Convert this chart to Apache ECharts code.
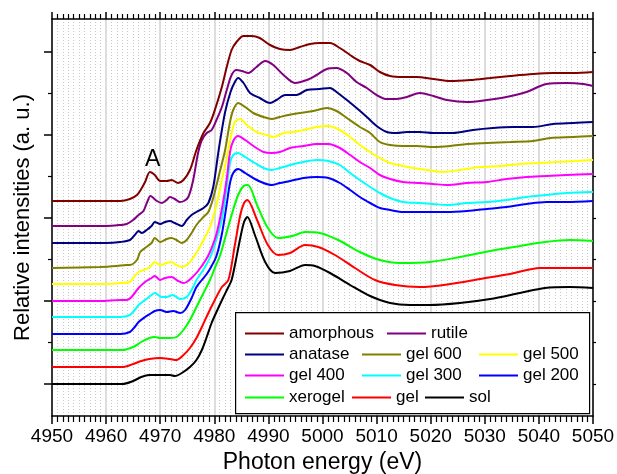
<!DOCTYPE html>
<html>
<head>
<meta charset="utf-8">
<script src="https://cdn.jsdelivr.net/npm/echarts@6/dist/echarts.min.js"></script>
<style>html,body{margin:0;padding:0;background:#fff;}#c{width:617px;height:474px;}</style>
</head>
<body>
<div id="c"></div>
<script>
// Photon energy (eV) vs relative intensity (a.u., offset curves)
const xTicks = [4950, 4960, 4970, 4980, 4990, 5000, 5010, 5020, 5030, 5040, 5050];
const yMajorTicks = [0, 83, 166, 249, 332];
const yMinorTicks = [41.5, 124.5, 207.5, 290.5];

const amorphous = [[4950,183],[4960,183],[4962.6,183],[4964.4,185],[4965.7,189],[4966.6,196],[4967.2,202],[4968.1,212],[4969,209],[4970,203],[4971.2,203],[4972.1,204],[4973.3,201],[4974.3,204],[4975.5,214],[4976.7,234],[4978,251],[4979.2,261],[4980.1,274],[4981.4,297],[4982.3,317],[4983.2,334],[4984.1,342],[4985.4,348],[4986.9,348],[4988.4,346],[4990.3,339],[4992.1,335],[4994,334],[4995.8,337],[4997.7,340],[4999.5,341],[5001.4,341],[5003.2,336],[5005.1,329],[5006.9,323],[5008.8,319],[5010.6,312],[5012.5,308],[5014.9,307],[5017.4,307],[5020.5,305],[5023.6,303],[5027.3,304],[5031,306],[5034.7,308],[5038.9,310],[5042.6,311],[5046.3,311],[5050,312]];
const rutile = [[4950,158],[4960,158],[4962.6,159],[4963.8,160],[4965,164],[4966,169],[4966.9,173],[4967.6,182],[4968.2,188],[4969.4,183],[4970.3,181],[4971.2,184],[4971.8,187],[4972.7,185],[4973.6,182],[4974.4,183],[4975.2,187],[4976.1,204],[4977,231],[4977.7,244],[4978.6,251],[4979.5,254],[4980.4,264],[4981.4,277],[4982.3,294],[4983.2,309],[4984.1,314],[4985.1,313],[4986.3,311],[4987.8,317],[4989.4,323],[4990.9,319],[4992.8,309],[4994.9,301],[4997.1,304],[4998.9,309],[5000.8,315],[5002.6,316],[5004.5,311],[5006.3,302],[5008.2,296],[5010,289],[5011.9,285],[5013.7,285],[5015.6,287],[5018,291],[5020.5,288],[5023,284],[5026.7,282],[5030.4,284],[5034,287],[5037.7,292],[5041.4,300],[5045.1,301],[5048.2,300],[5050,298]];
const anatase = [[4950,141],[4960,141],[4962.6,142],[4964.4,144],[4965.3,149],[4966,153],[4966.6,151],[4967.5,154],[4968.4,158],[4969,162],[4970,160],[4970.9,162],[4971.8,163],[4972.7,161],[4974,158],[4974.9,164],[4975.8,169],[4976.7,172],[4978,176],[4978.9,181],[4979.8,197],[4980.7,230],[4981.1,244],[4982,272],[4983,292],[4983.8,302],[4984.4,306],[4985.4,301],[4986.6,291],[4988.4,286],[4990.3,281],[4991.5,284],[4993.1,289],[4995.2,289],[4997.1,294],[4999.5,295],[5001.4,296],[5002.6,292],[5004.5,284],[5006.3,276],[5008.2,267],[5010,258],[5011.9,252],[5013.7,251],[5015.6,252],[5018,252],[5020.5,251],[5024.1,251],[5027.8,254],[5031.5,256],[5035.2,257],[5038.9,257],[5042.6,260],[5046.3,261],[5050,262]];
const gel600 = [[4950,116],[4958.9,117],[4962,118],[4963.8,119],[4964.4,119],[4965.7,124],[4966.3,132],[4967.2,136],[4968.4,141],[4969,146],[4970,142],[4971.2,145],[4972.1,146],[4973,144],[4974,141],[4974.9,144],[4975.8,151],[4976.7,159],[4978,167],[4978.9,172],[4979.8,186],[4981.1,214],[4982,234],[4982.9,262],[4983.5,274],[4984.4,281],[4985.7,277],[4987.2,271],[4989.1,267],[4990.6,265],[4992.1,267],[4993.7,269],[4995.8,271],[4998.3,273],[5000.8,276],[5002.6,273],[5004.5,266],[5006.9,257],[5008.8,251],[5010.6,242],[5012.5,239],[5014.9,238],[5017.4,238],[5020.5,237],[5023.6,238],[5026.7,240],[5030.4,241],[5034.7,242],[5038.9,243],[5042.1,246],[5046.3,247],[5050,248]];
const gel500 = [[4950,100],[4958.9,100],[4962.6,101],[4964.4,102],[4965,106],[4966,112],[4966.9,114],[4968.1,117],[4969,122],[4970,119],[4971.2,121],[4972.1,122],[4973,119],[4974,117],[4974.9,119],[4975.8,124],[4977,134],[4978.3,147],[4979.2,157],[4980.4,179],[4981.4,204],[4982.3,226],[4982.9,243],[4983.8,262],[4984.8,265],[4986,259],[4987.8,252],[4989.7,249],[4990.9,247],[4992.8,251],[4994.6,252],[4996.5,254],[4998.9,257],[5001.1,258],[5003.2,254],[5005.1,247],[5006.9,239],[5008.8,232],[5010.6,226],[5012.5,221],[5014.9,218],[5018,215],[5020.5,213],[5022.3,212],[5025.4,214],[5029.1,217],[5032.8,218],[5036.5,220],[5040.2,221],[5043.3,222],[5047,223],[5050,224]];
const gel400 = [[4950,83],[4958.9,83],[4962.6,84],[4963.8,84],[4964.7,87],[4966,96],[4967.2,102],[4968.4,106],[4969,108],[4970,104],[4970.9,106],[4972.1,107],[4973.3,103],[4974.3,101],[4974.9,102],[4975.8,106],[4977,113],[4978.3,123],[4979.2,132],[4980.4,150],[4981.4,175],[4982.3,205],[4982.9,232],[4983.5,243],[4984.4,248],[4985.7,244],[4987.5,237],[4989.1,232],[4990.6,231],[4992.1,232],[4994,236],[4996.5,238],[4998.9,240],[5001.1,240],[5003.2,236],[5005.1,229],[5006.9,222],[5008.8,216],[5010.6,209],[5012.5,205],[5014.9,202],[5018,201],[5020.5,200],[5023,199],[5026.7,201],[5030.4,202],[5034,205],[5037.7,207],[5041.4,208],[5045.1,209],[5050,210]];
const gel300 = [[4950,67],[4960,67],[4962.6,67],[4964.4,69],[4965.3,74],[4966,79],[4967.2,84],[4968.4,89],[4969,91],[4970.3,87],[4971.2,87],[4972.3,89],[4973.7,85],[4974.9,87],[4976.1,97],[4976.7,104],[4977.7,112],[4978.6,120],[4979.5,130],[4980.4,145],[4981.4,165],[4982.3,198],[4982.9,221],[4983.5,229],[4984.4,231],[4985.7,227],[4987.5,221],[4989.1,216],[4990.6,214],[4992.1,216],[4994,219],[4996.5,222],[4998.9,224],[5001.1,223],[5003.2,219],[5005.1,211],[5006.9,204],[5008.8,197],[5010.6,191],[5012.5,186],[5014.9,182],[5018,181],[5020.5,180],[5023,179],[5026.7,181],[5030.4,182],[5034,184],[5037.7,187],[5041.4,189],[5045.1,191],[5050,192]];
const gel200 = [[4950,50],[4960,50],[4962.6,50],[4964.4,52],[4965.3,57],[4966,62],[4967.2,67],[4968.1,70],[4969,73],[4970,74],[4971.2,72],[4972.4,73],[4973.7,71],[4974.6,74],[4975.8,86],[4976.7,97],[4977.7,104],[4978.6,110],[4979.5,118],[4980.4,128],[4981.4,150],[4982.3,180],[4982.9,201],[4983.5,211],[4984.4,215],[4985.7,211],[4987.5,205],[4989.1,201],[4990.6,199],[4992.1,201],[4994,203],[4996.5,206],[4998.9,207],[5001.1,206],[5003.2,201],[5005.1,194],[5006.9,187],[5008.8,181],[5010.6,176],[5012.5,174],[5014.9,172],[5019.3,172],[5023,172],[5026.7,173],[5030.4,175],[5034,177],[5037.7,180],[5041.4,182],[5045.1,182],[5050,183]];
const xerogel = [[4950,34],[4960,34],[4963,34],[4965,37],[4966.5,42],[4968,46],[4969,47],[4970,46],[4971.8,46],[4973,47],[4974.3,54],[4975.5,64],[4976.7,77],[4978,91],[4979.2,104],[4980.1,116],[4981.1,129],[4982,146],[4983.2,169],[4984.4,189],[4985.4,198],[4986.2,199],[4987.9,179],[4989.9,156],[4991.8,146],[4994.4,148],[4996.8,152],[4999.5,151],[5002.9,144],[5006.9,132],[5010.6,124],[5014.3,121],[5019.9,122],[5025.4,127],[5031,133],[5036.5,138],[5041.1,142],[5045.7,144],[5050,143]];
const gel = [[4950,17],[4960,17],[4963,17],[4965,20],[4966.5,23],[4968,25],[4970,26],[4971.8,25],[4973,24],[4974.3,29],[4975.5,36],[4976.7,46],[4977.7,57],[4978.9,71],[4980.1,84],[4981.4,97],[4982.6,104],[4983.8,139],[4984.8,169],[4985.5,181],[4986.1,184],[4987.9,164],[4989.9,139],[4991.8,129],[4994,131],[4996.8,139],[4999.2,137],[5002.3,129],[5006,116],[5009.7,104],[5013.4,99],[5018,97],[5023.6,100],[5029.1,105],[5034.7,110],[5040.2,116],[5044.8,116],[5050,116]];
const sol = [[4950,0],[4960,0],[4963,0],[4965,3],[4966.5,7],[4968,9],[4970,9],[4971.8,9],[4972.7,8],[4974,11],[4975.5,17],[4976.7,24],[4977.7,34],[4978.6,47],[4979.5,61],[4980.4,72],[4981.6,86],[4982.6,97],[4983.2,104],[4984,124],[4984.8,146],[4985.5,162],[4986.1,167],[4987.5,149],[4989.4,122],[4991.2,111],[4994,113],[4996.8,119],[4998.6,118],[5001.4,111],[5005.1,99],[5008.8,88],[5012.5,81],[5016.2,79],[5019.9,79],[5025.4,81],[5031,85],[5036.5,91],[5041.1,96],[5045.7,97],[5050,96]];

const seriesNames = ['amorphous','rutile','anatase','gel 600','gel 500','gel 400','gel 300','gel 200','xerogel','gel','sol'];
const seriesData = [amorphous, rutile, anatase, gel600, gel500, gel400, gel300, gel200, xerogel, gel, sol];
const colors = ['#800000','#800080','#000080','#808000','#ffff00','#ff00ff','#00ffff','#0000ff','#00ff00','#ff0000','#000000'];
const peakLabel = {text: 'A', coord: [4968.6, 224]};

const FONT = '"Liberation Sans", Arial, Helvetica, sans-serif';
const chart = echarts.init(document.getElementById('c'), null, {renderer: 'canvas'});

const series = seriesNames.map((n, i) => ({
  name: n, type: 'line', data: seriesData[i], symbol: 'none', smooth: 0.3,
  lineStyle: {color: colors[i], width: 2}, itemStyle: {color: colors[i]},
  z: 20 - i,
  markPoint: i === 0 ? {
    symbol: 'circle', symbolSize: 0, silent: true,
    label: {show: true, position: 'inside', formatter: peakLabel.text, fontSize: 23, color: '#000', fontFamily: FONT},
    data: [{coord: peakLabel.coord}]
  } : undefined
}));

// legend layout: [name, left, top]
const legendPos = [
  ['amorphous', 245, 325], ['rutile', 387, 325],
  ['anatase', 245, 346], ['gel 600', 362, 346], ['gel 500', 479, 346],
  ['gel 400', 245, 367], ['gel 300', 362, 367], ['gel 200', 479, 367],
  ['xerogel', 245, 389], ['gel', 352, 389], ['sol', 425, 389]
];
const legends = legendPos.map(p => ({
  data: [{name: p[0], icon: 'rect'}], left: p[1], top: p[2], padding: 0, itemWidth: 39, itemHeight: 2,
  textStyle: {fontSize: 17, color: '#000', fontFamily: FONT}, z: 10, selectedMode: false
}));

const axisLineStyle = {color: '#000', width: 1.5};
const yBase = {type: 'value', min: -32, max: 365, splitLine: {show: false}, axisLabel: {show: false}};

chart.setOption({
  backgroundColor: '#fff',
  animation: false,
  grid: {left: 52, right: 24, top: 19, bottom: 58, containLabel: false, outerBoundsMode: 'none'},
  legend: legends,
  graphic: [{
    type: 'rect', left: 235, top: 312, z: 5,
    shape: {width: 354, height: 101},
    style: {fill: '#fff', stroke: '#000', lineWidth: 1.2}
  }],
  xAxis: [{
    type: 'value', position: 'bottom', min: 4950, max: 5050, interval: 10,
    axisLine: {onZero: false, lineStyle: axisLineStyle},
    axisTick: {show: true, inside: false, length: 8, lineStyle: {color: '#000', width: 1.5}},
    minorTick: {show: true, splitNumber: 10, length: 6, lineStyle: {color: '#000', width: 1.2}},
    splitLine: {show: true, lineStyle: {color: '#d2d2d2', width: 1.5}},
    minorSplitLine: {show: true, lineStyle: {color: '#c9c9c9', width: 1, type: [1, 2]}},
    axisLabel: {fontSize: 19, color: '#000', fontFamily: FONT, margin: 11,
      formatter: v => String(v)},
    name: 'Photon energy (eV)', nameLocation: 'middle', nameGap: 34,
    nameTextStyle: {fontSize: 23, color: '#000', fontFamily: FONT}
  }, {
    type: 'value', position: 'top', min: 4950, max: 5050, interval: 10,
    axisLine: {onZero: false, lineStyle: axisLineStyle},
    axisTick: {show: true, length: 7, lineStyle: {color: '#000', width: 1.5}},
    minorTick: {show: true, splitNumber: 10, length: 5, lineStyle: {color: '#000', width: 1.2}},
    splitLine: {show: false}, axisLabel: {show: false}
  }],
  yAxis: [Object.assign({}, yBase, {
    position: 'left',
    axisLine: {show: true, onZero: false, lineStyle: axisLineStyle},
    axisTick: {show: true, length: 8, customValues: yMajorTicks, lineStyle: {color: '#000', width: 1.5}},
    name: 'Relative intensities (a. u.)', nameLocation: 'middle', nameGap: 18, nameRotate: 90,
    nameTextStyle: {fontSize: 22, color: '#000', fontFamily: FONT}
  }), Object.assign({}, yBase, {
    position: 'left',
    axisLine: {show: false, onZero: false},
    axisTick: {show: true, length: 4, customValues: yMinorTicks, lineStyle: {color: '#000', width: 1.2}}
  }), Object.assign({}, yBase, {
    position: 'right',
    axisLine: {show: true, onZero: false, lineStyle: axisLineStyle},
    axisTick: {show: true, length: 3, customValues: yMajorTicks.concat(yMinorTicks), lineStyle: {color: '#000', width: 1.2}}
  })],
  series: series
});
</script>
</body>
</html>
